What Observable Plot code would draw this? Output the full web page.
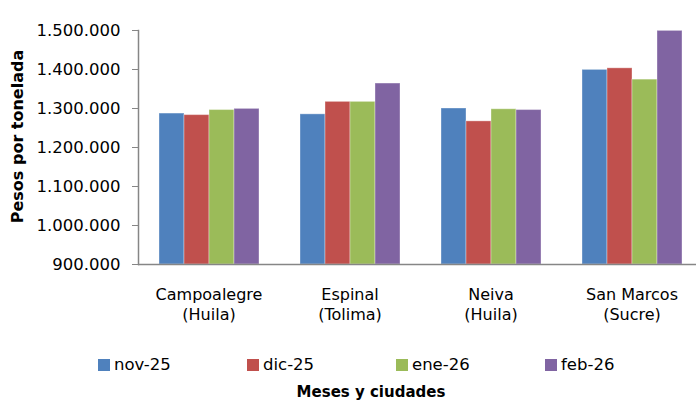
<!DOCTYPE html>
<html>
<head>
<meta charset="utf-8">
<script src="https://cdn.jsdelivr.net/npm/d3@7"></script>
<script src="https://cdn.jsdelivr.net/npm/@observablehq/plot@0.6"></script>
<style>
  html, body { margin: 0; padding: 0; background: #fff; }
  #chart { position: relative; width: 696px; height: 404px; overflow: hidden; font-family: "DejaVu Sans", sans-serif; color: #000; }
  #chart svg { position: absolute; left: 0; top: 0; }
  .legend { position: absolute; top: 355px; left: 98px; display: flex; }
  .item { display: flex; align-items: center; width: 149px; font-size: 16.5px; line-height: 20px; }
  .sw { width: 12px; height: 12px; margin-right: 4px; }
  .title { position: absolute; top: 383px; left: 371px; transform: translateX(-50%); font-size: 15px; font-weight: bold; line-height: 18px; white-space: nowrap; }
</style>
</head>
<body>
<div id="chart"></div>
<script>
// ---- data ----
const cities = ["Campoalegre", "Espinal", "Neiva", "San Marcos"];
const regions = ["Huila", "Tolima", "Huila", "Sucre"];
const months = ["nov-25", "dic-25", "ene-26", "feb-26"];
const colors = ["#4F81BD", "#C0504D", "#9BBB59", "#8064A2"];
const nov25 = [1287000, 1285000, 1300000, 1399000];
const dic25 = [1283000, 1317000, 1267000, 1403000];
const ene26 = [1296000, 1317000, 1298000, 1374000];
const feb26 = [1299000, 1364000, 1296000, 1499000];
const yTicks = [900000, 1000000, 1100000, 1200000, 1300000, 1400000, 1500000];
const yLabel = "Pesos por tonelada";
const xTitle = "Meses y ciudades";

const series = [nov25, dic25, ene26, feb26];
const rows = [];
months.forEach((m, i) => cities.forEach((c, j) => rows.push({month: m, city: c, value: series[i][j]})));

const locale = d3.formatLocale({decimal: ",", thousands: ".", grouping: [3], currency: ["$", ""]});
const fmt = locale.format(",d");
const yMin = yTicks[0], yMax = yTicks[yTicks.length - 1];

const plot = Plot.plot({
  width: 696,
  height: 340,
  marginTop: 30,
  marginBottom: 76,
  marginLeft: 137,
  marginRight: -6,
  style: {fontFamily: "DejaVu Sans, sans-serif", fontSize: "16px", color: "#000", background: "transparent", overflow: "visible"},
  fx: {domain: cities, padding: 0, label: null},
  x: {domain: months, paddingInner: 0, paddingOuter: 0.74, axis: null},
  y: {domain: [yMin, yMax]},
  color: {domain: months, range: colors},
  marks: [
    Plot.barY(rows, {fx: "city", x: "month", y1: yMin, y2: "value", fill: "month", stroke: "#ffffff", strokeOpacity: 0.35, strokeWidth: 1}),
    Plot.ruleY([yMin], {stroke: "#868686", strokeWidth: 1.5}),
    Plot.frame({anchor: "left", facetAnchor: "left", stroke: "#868686", strokeWidth: 1.5}),
    Plot.axisY({ticks: yTicks, tickFormat: fmt, tickSize: 6, tickPadding: 12, fontSize: 16.5, label: null, stroke: "#868686", fill: "#000"}),
    Plot.text([yLabel], {frameAnchor: "left", facetAnchor: "left", rotate: -90, textAnchor: "middle", dx: -121, dy: -11, fontWeight: "bold", fontSize: 16, fill: "#000", text: d => d}),
    Plot.axisFx({anchor: "bottom", tickSize: 0, tickPadding: 21, fontSize: 16, lineHeight: 1.25, label: null,
      tickFormat: c => `${c}\n(${regions[cities.indexOf(c)]})`})
  ]
});

const chart = document.getElementById("chart");
chart.appendChild(plot);

const legend = document.createElement("div");
legend.className = "legend";
months.forEach((m, i) => {
  const it = document.createElement("div");
  it.className = "item";
  const sw = document.createElement("span");
  sw.className = "sw";
  sw.style.background = colors[i];
  const tx = document.createElement("span");
  tx.textContent = m;
  it.appendChild(sw); it.appendChild(tx);
  legend.appendChild(it);
});
chart.appendChild(legend);

const title = document.createElement("div");
title.className = "title";
title.textContent = xTitle;
chart.appendChild(title);
</script>
</body>
</html>
